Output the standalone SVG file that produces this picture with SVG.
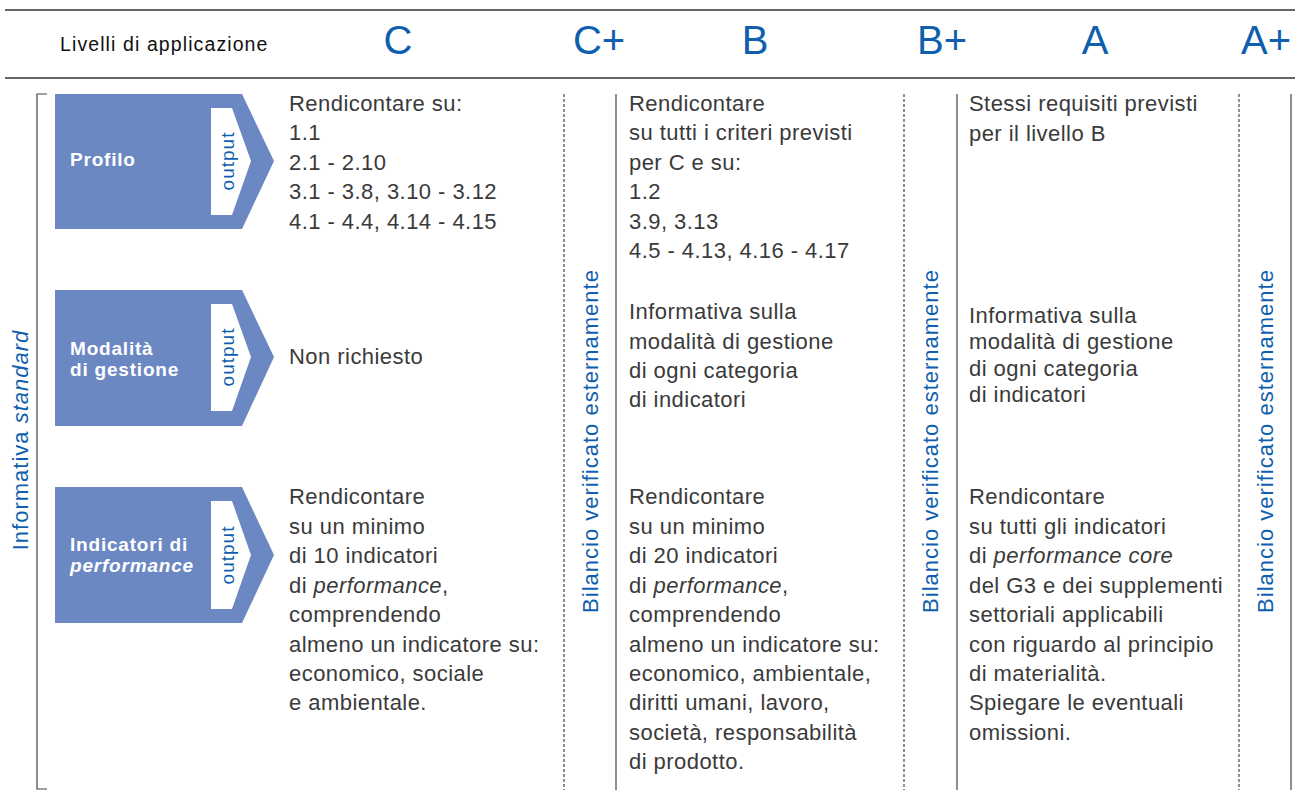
<svg xmlns="http://www.w3.org/2000/svg" width="1295" height="797" viewBox="0 0 1295 797">
<style>
.t{font-family:"Liberation Sans",Arial,sans-serif;font-size:22px;letter-spacing:0.45px;fill:#3a3a3a}
.lv{font-family:"Liberation Sans",Arial,sans-serif;font-size:40px;fill:#0f5fae;text-anchor:middle}
.vt{font-family:"Liberation Sans",Arial,sans-serif;font-size:22px;letter-spacing:1px;fill:#0f5fae;text-anchor:middle}
.hd{font-family:"Liberation Sans",Arial,sans-serif;font-size:19.5px;letter-spacing:1.1px;fill:#111111}
.nb{font-family:"Liberation Sans",Arial,sans-serif;font-size:19px;letter-spacing:0.8px;font-weight:bold;fill:#ffffff}
.op{font-family:"Liberation Sans",Arial,sans-serif;font-size:19px;letter-spacing:1px;fill:#0f5fae;text-anchor:middle}
.shape{fill:#6c88c3}
.lab{fill:#ffffff}
.hl{stroke:#333333;stroke-width:1.5;fill:none}
.sl{stroke:#444444;stroke-width:1.2;fill:none}
.dl{stroke:#444444;stroke-width:1.2;stroke-dasharray:3 2;fill:none}
</style>
<rect width="1295" height="797" fill="#ffffff"/>
<g id="header">
<line class="hl" x1="5" y1="10" x2="1295" y2="10"/>
<line class="hl" x1="5" y1="78" x2="1295" y2="78"/>
<text class="hd" x="60" y="51">Livelli di applicazione</text>
<text class="lv" x="398" y="54">C</text>
<text class="lv" x="599" y="54">C+</text>
<text class="lv" x="755" y="54">B</text>
<text class="lv" x="942" y="54">B+</text>
<text class="lv" x="1095" y="54">A</text>
<text class="lv" x="1266" y="54">A+</text>
</g>
<g id="connectors">
<polyline class="sl" points="47,94 37,94 37,789 47,789"/>
<line class="dl" x1="564" y1="94" x2="564" y2="790"/>
<line class="sl" x1="616" y1="94" x2="616" y2="790"/>
<line class="dl" x1="904" y1="94" x2="904" y2="790"/>
<line class="sl" x1="957" y1="94" x2="957" y2="790"/>
<line class="dl" x1="1239" y1="94" x2="1239" y2="790"/>
<line class="sl" x1="1291" y1="94" x2="1291" y2="790"/>
</g>
<g id="informativa-standard">
<text class="vt" transform="translate(28,440) rotate(-90)">Informativa <tspan font-style="italic">standard</tspan></text>
</g>
<g id="node-profilo">
<polygon class="shape" points="55,94 242,94 274,161 242,229 55,229"/>
<polygon class="lab" points="211,108 232,108 251,161 232,215 211,215"/>
<text class="op" transform="translate(234,161) rotate(-90)">output</text>
<text class="nb" x="70" y="166">Profilo</text>
</g>
<g id="node-modalita">
<polygon class="shape" points="55,290 242,290 274,357 242,426 55,426"/>
<polygon class="lab" points="211,304 232,304 251,357 232,411 211,411"/>
<text class="op" transform="translate(234,357) rotate(-90)">output</text>
<text class="nb" x="70" y="355">Modalità</text>
<text class="nb" x="70" y="376">di gestione</text>
</g>
<g id="node-indicatori">
<polygon class="shape" points="55,487 242,487 274,555 242,623 55,623"/>
<polygon class="lab" points="211,501 232,501 251,555 232,609 211,609"/>
<text class="op" transform="translate(234,555) rotate(-90)">output</text>
<text class="nb" x="70" y="551">Indicatori di</text>
<text class="nb" x="70" y="572" font-style="italic">performance</text>
</g>
<g id="col-c">
<text class="t" x="289" y="111">Rendicontare su:</text>
<text class="t" x="289" y="140">1.1</text>
<text class="t" x="289" y="170">2.1 - 2.10</text>
<text class="t" x="289" y="199">3.1 - 3.8, 3.10 - 3.12</text>
<text class="t" x="289" y="229">4.1 - 4.4, 4.14 - 4.15</text>
<text class="t" x="289" y="364">Non richiesto</text>
<text class="t" x="289" y="504">Rendicontare</text>
<text class="t" x="289" y="534">su un minimo</text>
<text class="t" x="289" y="563">di 10 indicatori</text>
<text class="t" x="289" y="593">di <tspan font-style="italic">performance</tspan>,</text>
<text class="t" x="289" y="622">comprendendo</text>
<text class="t" x="289" y="652">almeno un indicatore su:</text>
<text class="t" x="289" y="681">economico, sociale</text>
<text class="t" x="289" y="710">e ambientale.</text>
</g>
<g id="verif-c">
<text class="vt" transform="translate(598,441) rotate(-90)">Bilancio verificato esternamente</text>
</g>
<g id="col-b">
<text class="t" x="629" y="111">Rendicontare</text>
<text class="t" x="629" y="140">su tutti i criteri previsti</text>
<text class="t" x="629" y="170">per C e su:</text>
<text class="t" x="629" y="199">1.2</text>
<text class="t" x="629" y="229">3.9, 3.13</text>
<text class="t" x="629" y="258">4.5 - 4.13, 4.16 - 4.17</text>
<text class="t" x="629" y="319">Informativa sulla</text>
<text class="t" x="629" y="349">modalità di gestione</text>
<text class="t" x="629" y="378">di ogni categoria</text>
<text class="t" x="629" y="407">di indicatori</text>
<text class="t" x="629" y="504">Rendicontare</text>
<text class="t" x="629" y="534">su un minimo</text>
<text class="t" x="629" y="563">di 20 indicatori</text>
<text class="t" x="629" y="593">di <tspan font-style="italic">performance</tspan>,</text>
<text class="t" x="629" y="622">comprendendo</text>
<text class="t" x="629" y="652">almeno un indicatore su:</text>
<text class="t" x="629" y="681">economico, ambientale,</text>
<text class="t" x="629" y="710">diritti umani, lavoro,</text>
<text class="t" x="629" y="740">società, responsabilità</text>
<text class="t" x="629" y="769">di prodotto.</text>
</g>
<g id="verif-b">
<text class="vt" transform="translate(938,441) rotate(-90)">Bilancio verificato esternamente</text>
</g>
<g id="col-a">
<text class="t" x="969" y="111">Stessi requisiti previsti</text>
<text class="t" x="969" y="141">per il livello B</text>
<text class="t" x="969" y="323">Informativa sulla</text>
<text class="t" x="969" y="349">modalità di gestione</text>
<text class="t" x="969" y="376">di ogni categoria</text>
<text class="t" x="969" y="402">di indicatori</text>
<text class="t" x="969" y="504">Rendicontare</text>
<text class="t" x="969" y="534">su tutti gli indicatori</text>
<text class="t" x="969" y="563">di <tspan font-style="italic">performance core</tspan></text>
<text class="t" x="969" y="593">del G3 e dei supplementi</text>
<text class="t" x="969" y="622">settoriali applicabili</text>
<text class="t" x="969" y="652">con riguardo al principio</text>
<text class="t" x="969" y="681">di materialità.</text>
<text class="t" x="969" y="710">Spiegare le eventuali</text>
<text class="t" x="969" y="740">omissioni.</text>
</g>
<g id="verif-a">
<text class="vt" transform="translate(1273,441) rotate(-90)">Bilancio verificato esternamente</text>
</g>
</svg>
